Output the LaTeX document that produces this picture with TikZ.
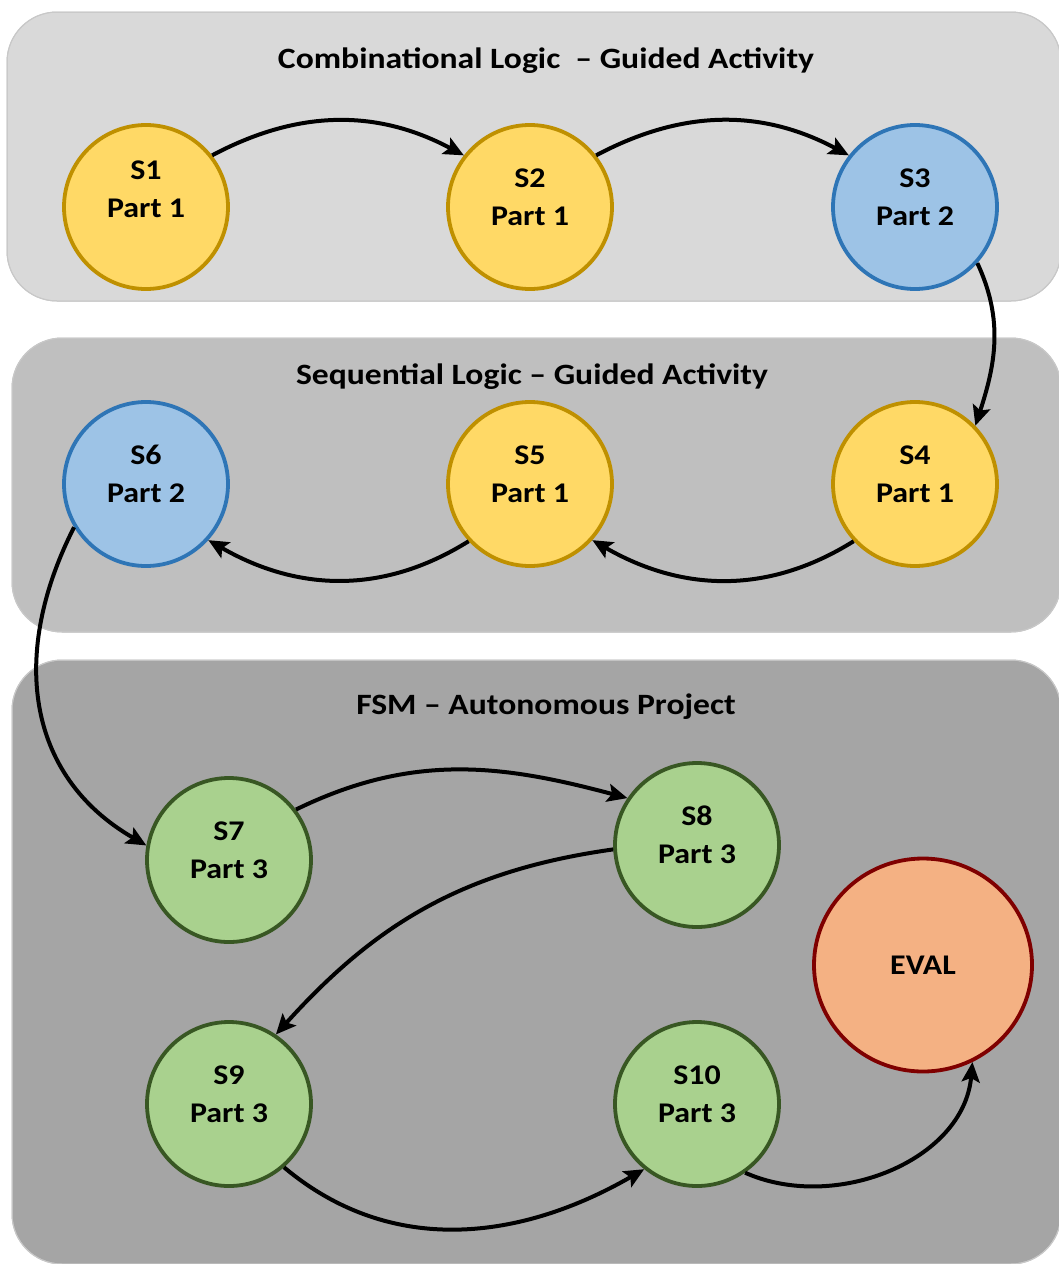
\documentclass[tikz,border=0pt]{standalone}
\usepackage{fontspec}
\newfontfamily\lbl{Carlito}[FakeStretch=1.12]
\newfontfamily\ttl{Carlito}[FakeStretch=1.14]
\usetikzlibrary{arrows.meta,shapes.geometric}
\definecolor{panelA}{HTML}{D9D9D9}
\definecolor{panelB}{HTML}{BFBFBF}
\definecolor{panelC}{HTML}{A5A5A5}
\definecolor{panelLine}{HTML}{C8C8C8}
\definecolor{yelFill}{HTML}{FFD966}
\definecolor{yelLine}{HTML}{BF9000}
\definecolor{bluFill}{HTML}{9DC3E6}
\definecolor{bluLine}{HTML}{2E75B6}
\definecolor{grnFill}{HTML}{A9D18E}
\definecolor{grnLine}{HTML}{385723}
\definecolor{evFill}{HTML}{F4B183}
\definecolor{evLine}{HTML}{7F0000}
\tikzset{
  panel/.style={draw=panelLine, line width=1pt, rounded corners=50pt},
  ptitle/.style={font=\ttl\bfseries\fontsize{29.5}{33}\selectfont, inner sep=0pt},
  stnode/.style={circle, line width=3.8pt, minimum size=164pt, inner sep=0pt, align=center,
     font=\lbl\bfseries\fontsize{28.5}{38}\selectfont, text depth=20pt},
  yel/.style={stnode, fill=yelFill, draw=yelLine},
  blu/.style={stnode, fill=bluFill, draw=bluLine},
  grn/.style={stnode, fill=grnFill, draw=grnLine},
  conn/.style={line width=4pt, -{Stealth[length=20pt,width=18pt,inset=4pt]}},
}
\begin{document}
\begin{tikzpicture}[x=1pt,y=-1pt]
\useasboundingbox (0,0) rectangle (1059,1264);
% panels
\fill[panelA, panel] (7,12) rectangle (1061,301);
\fill[panelB, panel] (12,338) rectangle (1061,632);
\fill[panelC, panel] (12,660) rectangle (1061,1264);
\draw[panel] (7,12) rectangle (1061,301);
\draw[panel] (12,338) rectangle (1061,632);
\draw[panel] (12,660) rectangle (1061,1264);
% titles
\node[ptitle] (t1) at (546,61) {Combinational Logic \ – Guided Activity};
\node[ptitle] (t2) at (532,377) {Sequential Logic – Guided Activity};
\node[ptitle] (t3) at (546,707) {FSM – Autonomous Project};
% states
\node[yel, text depth=36pt] (s1) at (146,207) {S1\\Part 1};
\node[yel] (s2) at (530,207) {S2\\Part 1};
\node[blu] (s3) at (915,207) {S3\\Part 2};
\node[yel] (s4) at (915,484) {S4\\Part 1};
\node[yel] (s5) at (530,484) {S5\\Part 1};
\node[blu] (s6) at (146,484) {S6\\Part 2};
\node[grn] (s7) at (229,860) {S7\\Part 3};
\node[grn] (s8) at (697,845) {S8\\Part 3};
\node[grn] (s9) at (229,1104) {S9\\Part 3};
\node[grn] (s10) at (697,1104) {S10\\Part 3};
\node[ellipse, draw=evLine, fill=evFill, line width=3.8pt, minimum width=218pt, minimum height=213pt,
      inner sep=0pt, font=\lbl\bfseries\fontsize{28.5}{38}\selectfont] (ev) at (923,965) {EVAL};
% connectors
\draw[conn] (s1.38) to[out=28, in=152] (s2.142);
\draw[conn] (s2.38) to[out=28, in=152] (s3.142);
\draw[conn] (s3.-42) to[out=-65, in=72] (s4.44);
\draw[conn] (s4.223) to[out=212, in=-30] (s5.-42);
\draw[conn] (s5.223) to[out=212, in=-30] (s6.-42);
\draw[conn] (s6.211) to[out=243, in=150, looseness=1.1] (s7.170);
\draw[conn] (s7.37) to[out=26, in=165] (s8.146);
\draw[conn] (s8.183) to[out=188, in=48] (s9.56);
\draw[conn] (s9.-49) to[out=-40, in=210] (s10.231);
\draw[conn] (s10.-55) to[out=-24, in=-95] (ev.-63);
\end{tikzpicture}
\end{document}
